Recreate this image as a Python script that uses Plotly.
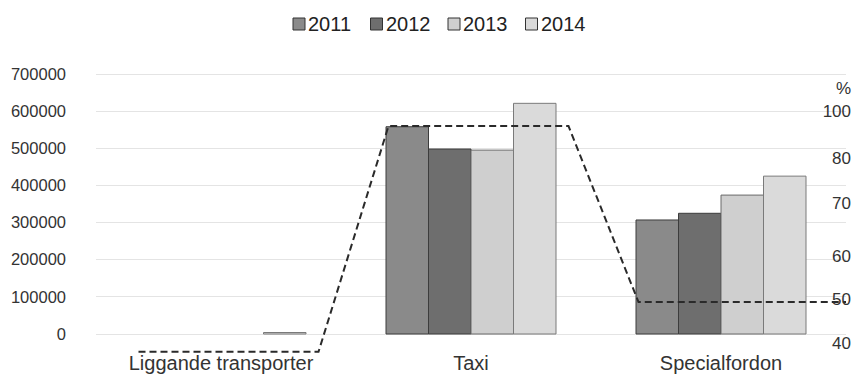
import plotly.graph_objects as go

# Vehicle categories and yearly volumes (left axis)
categories = ["Liggande transporter", "Taxi", "Specialfordon"]
years = ["2011", "2012", "2013", "2014"]
volumes = {
    "2011": [None, 558000, 307000],
    "2012": [None, 498000, 325000],
    "2013": [None, 495000, 374000],
    "2014": [4000, 621000, 425000],
}

# Share per category (right axis, %)
share_pct = [38, 89.3, 49.3]

# Right-axis tick labels
pct_tick_text = ["%", "100", "80", "70", "60", "50", "40"]
pct_tick_pos = [98.0, 92.7, 82.0, 71.8, 59.8, 50.0, 40.0]

left_ticks = [0, 100000, 200000, 300000, 400000, 500000, 600000, 700000]

bar_fill = {"2011": "#8a8a8a", "2012": "#6e6e6e", "2013": "#cfcfcf", "2014": "#dadada"}
bar_edge = {"2011": "#3c3c3c", "2012": "#3c3c3c", "2013": "#6a6a6a", "2014": "#7a7a7a"}

font_family = "Liberation Sans, Arial, sans-serif"

# Page geometry (px)
W, H = 854, 374
M_L, M_R, M_T, M_B = 96, 8, 70, 18
plot_w = W - M_L - M_R
plot_h = H - M_T - M_B


def px_to_paper_x(px):
    return (px - M_L) / plot_w


def px_to_paper_y(py):
    return (H - M_B - py) / plot_h


fig = go.Figure()
for yr in years:
    fig.add_trace(go.Bar(
        x=categories, y=volumes[yr], name=yr, showlegend=False,
        marker=dict(color=bar_fill[yr], line=dict(color=bar_edge[yr], width=1)),
    ))

# Step-like share line: a flat run across each category group, joined by slopes
seg_left, seg_right = -0.33, 0.39
line_x, line_y = [], []
for i, v in enumerate(share_pct):
    right = seg_right if i < len(share_pct) - 1 else 0.6
    line_x += [i + seg_left, i + right]
    line_y += [v, v]
fig.add_trace(go.Scatter(
    x=line_x, y=line_y, xaxis="x2", yaxis="y2", mode="lines",
    line=dict(color="#2a2a2a", width=2, dash="7px,4px"),
    showlegend=False,
))

# Compact legend row above the plot: swatch + year label per series
leg_start, leg_pitch, leg_cy, sw = 293, 77.5, 24, 12
shapes, annotations = [], []
for i, yr in enumerate(years):
    x0 = leg_start + i * leg_pitch
    shapes.append(dict(
        type="rect", xref="paper", yref="paper",
        x0=px_to_paper_x(x0), x1=px_to_paper_x(x0 + sw),
        y0=px_to_paper_y(leg_cy + sw / 2), y1=px_to_paper_y(leg_cy - sw / 2),
        fillcolor=bar_fill[yr], line=dict(color="#333333", width=1),
    ))
    annotations.append(dict(
        text=yr, xref="paper", yref="paper", showarrow=False,
        x=px_to_paper_x(x0 + sw + 1), xanchor="left",
        y=px_to_paper_y(leg_cy), yanchor="middle",
        font=dict(size=20, color="#222222"),
    ))

fig.update_layout(
    width=W, height=H,
    margin=dict(l=M_L, r=M_R, t=M_T, b=M_B, autoexpand=False),
    paper_bgcolor="white", plot_bgcolor="white",
    font=dict(family=font_family, size=17, color="#333333"),
    barmode="group", bargap=0.32, bargroupgap=0,
    showlegend=False,
    shapes=shapes, annotations=annotations,
    xaxis=dict(
        type="category", showgrid=False, zeroline=False, showline=False,
        ticks="", ticklabelstandoff=-7, automargin=False,
        tickfont=dict(size=20, color="#333333"),
    ),
    xaxis2=dict(
        overlaying="x", range=[-0.5, 2.5], visible=False,
    ),
    yaxis=dict(
        range=[-59231, 710769], tickvals=left_ticks, tickformat="d",
        showgrid=True, gridcolor="#e4e4e4", gridwidth=1,
        zeroline=False, showline=False, ticks="", automargin=False,
        ticklabelstandoff=29, tickfont=dict(size=16.5, color="#333333"),
    ),
    yaxis2=dict(
        overlaying="y", side="right", range=[37.05, 102.05],
        tickvals=pct_tick_pos, ticktext=pct_tick_text,
        showgrid=False, zeroline=False, showline=False, ticks="",
        ticklabelposition="inside", ticklabelstandoff=-8, ticklabeloverflow="allow",
        automargin=False, tickfont=dict(size=17, color="#333333"),
    ),
)

fig.write_html("out.html")
